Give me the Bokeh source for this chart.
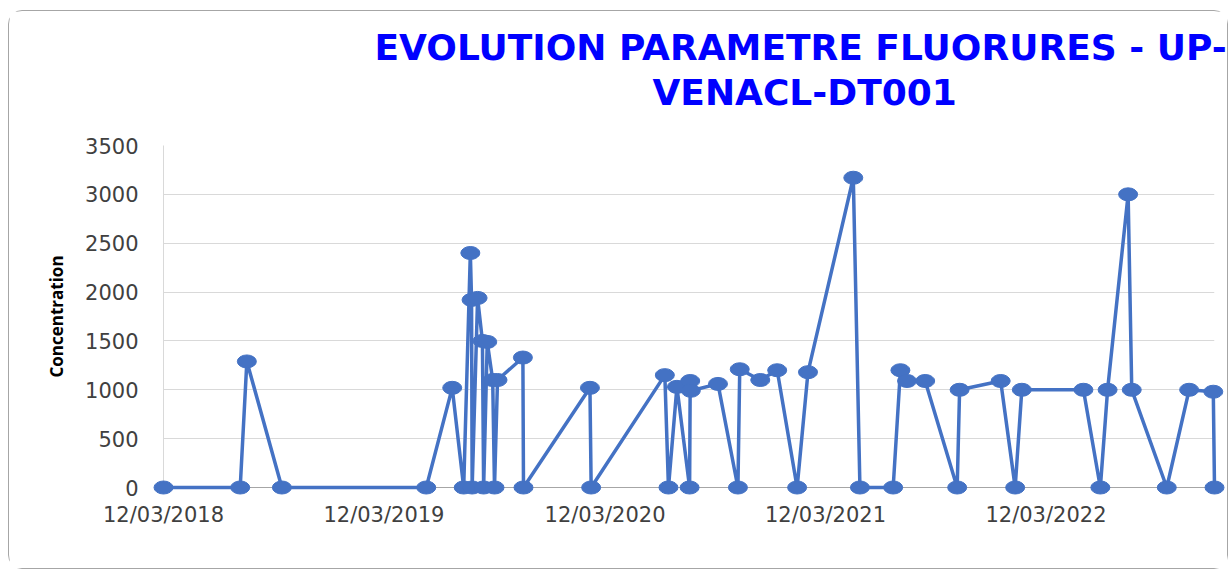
import pandas as pd
from bokeh.plotting import figure
from bokeh.models import Range1d, FixedTicker, DatetimeTickFormatter, Title, ColumnDataSource
from bokeh.embed import file_html
from bokeh.resources import INLINE

# ---------------- data ----------------
title_line1 = "EVOLUTION PARAMETRE FLUORURES - UP-"
title_line2 = "VENACL-DT001"
y_label = "Concentration"
x_tick_labels = ["12/03/2018", "12/03/2019", "12/03/2020", "12/03/2021", "12/03/2022"]
y_ticks = [0, 500, 1000, 1500, 2000, 2500, 3000, 3500]

sample_dates = [
    "2018-03-12", "2018-07-17", "2018-07-28", "2018-09-24",
    "2019-05-21", "2019-07-03", "2019-07-22", "2019-08-02", "2019-08-04", "2019-08-05",
    "2019-08-14", "2019-08-22", "2019-08-24", "2019-08-30", "2019-09-08", "2019-09-11",
    "2019-09-16", "2019-10-28", "2019-10-29",
    "2020-02-16", "2020-02-18", "2020-06-19", "2020-06-25", "2020-07-09", "2020-07-30",
    "2020-07-31", "2020-08-01", "2020-09-15", "2020-10-18", "2020-10-21", "2020-11-24",
    "2020-12-22",
    "2021-01-24", "2021-02-11", "2021-04-27", "2021-05-08", "2021-07-02", "2021-07-14",
    "2021-07-25", "2021-08-24", "2021-10-16", "2021-10-20", "2021-12-27",
    "2022-01-20", "2022-01-31", "2022-05-13", "2022-06-10", "2022-06-22", "2022-07-26",
    "2022-08-01", "2022-09-28", "2022-11-04", "2022-12-14", "2022-12-16",
]
concentration = [
    0, 0, 1290, 0,
    0, 1020, 0, 2400, 1920, 0,
    1940, 1500, 0, 1490, 1100, 0,
    1100, 1330, 0,
    1020, 0, 1150, 0, 1030, 0,
    1090, 990, 1060, 0, 1210, 1100,
    1200,
    0, 1180, 3170, 0, 0, 1200,
    1090, 1090, 0, 1000, 1090,
    0, 1000, 1000, 0, 1000, 3000,
    1000, 0, 1000, 980, 0,
]

# ---------------- chart ----------------
x = pd.to_datetime(sample_dates)
src = ColumnDataSource(dict(x=x, y=concentration))
tick_dates = pd.to_datetime(x_tick_labels, format="%d/%m/%Y")
tick_ms = [d.timestamp() * 1000 for d in tick_dates]

LINE_BLUE = "#4472C4"
TITLE_BLUE = "#0000FF"

p = figure(
    width=1220, height=559,
    x_axis_type="datetime",
    x_range=Range1d(x.min().to_pydatetime(), x.max().to_pydatetime()),
    y_range=Range1d(0, 3500),
    output_backend="svg", toolbar_location=None, title=None,
    min_border_left=154, min_border_right=15, min_border_top=134, min_border_bottom=83,
)
p.styles = {"border": "1px solid #A6A6A6", "border-radius": "14px",
            "margin-left": "8px", "margin-top": "10px"}
p.outline_line_color = None
p.background_fill_color = "white"
p.border_fill_color = "white"

p.xgrid.visible = False
p.ygrid.grid_line_color = "#D9D9D9"
p.ygrid.grid_line_width = 1

# y axis
p.yaxis.ticker = FixedTicker(ticks=y_ticks)
p.yaxis.axis_line_color = "#D9D9D9"
p.yaxis.major_tick_line_color = None
p.yaxis.major_tick_out = 0
p.yaxis.major_tick_in = 0
p.yaxis.minor_tick_line_color = None
p.yaxis.major_label_standoff = 25
p.yaxis.major_label_text_font = "DejaVu Sans"
p.yaxis.major_label_text_font_size = "21px"
p.yaxis.major_label_text_color = "#404040"
p.yaxis.axis_label = y_label
p.yaxis.axis_label_text_font = "Open Sans"
p.yaxis.axis_label_text_font_style = "bold"
p.yaxis.axis_label_text_font_size = "17px"
p.yaxis.axis_label_text_color = "black"
p.yaxis.axis_label_standoff = 14

# x axis
fmt = "%d/%m/%Y"
p.xaxis.ticker = FixedTicker(ticks=tick_ms)
p.xaxis.formatter = DatetimeTickFormatter(
    microseconds=fmt, milliseconds=fmt, seconds=fmt, minsec=fmt, minutes=fmt,
    hourmin=fmt, hours=fmt, days=fmt, months=fmt, years=fmt,
)
p.xaxis.axis_line_color = "#A6A6A6"
p.xaxis.major_tick_line_color = None
p.xaxis.major_tick_out = 0
p.xaxis.major_tick_in = 0
p.xaxis.minor_tick_line_color = None
p.xaxis.major_label_standoff = 15
p.xaxis.major_label_text_font = "DejaVu Sans"
p.xaxis.major_label_text_font_size = "21px"
p.xaxis.major_label_text_color = "#404040"

# series
p.line("x", "y", source=src, line_color=LINE_BLUE, line_width=3.5, level="overlay")
p.ellipse("x", "y", width=19, height=13, width_units="screen", height_units="screen",
          fill_color=LINE_BLUE, line_color=LINE_BLUE, source=src, level="overlay")

# two-line title, stacked above the frame (first added = closest to the frame)
title_style = dict(align="left", text_font="DejaVu Sans", text_font_style="bold",
                   text_font_size="36px", text_color=TITLE_BLUE, standoff=2)
p.add_layout(Title(text=" ", text_font_size="1px", standoff=29), "above")   # spacer
p.add_layout(Title(text=title_line2, offset=489, **title_style), "above")
p.add_layout(Title(text=title_line1, offset=211, **title_style), "above")

open("out.html", "w").write(file_html(p, INLINE))
